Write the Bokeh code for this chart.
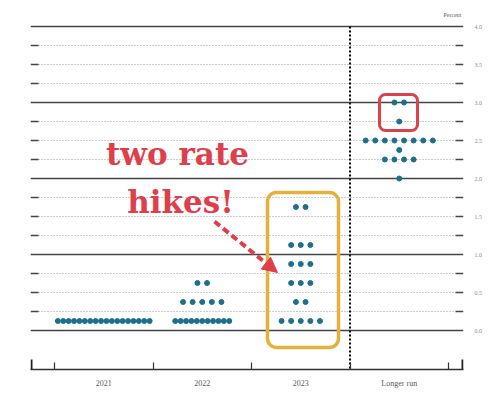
from bokeh.plotting import figure
from bokeh.models import (Range1d, LinearAxis, FixedTicker, PrintfTickFormatter,
                          BoxAnnotation, Label, Arrow, NormalHead)
from bokeh.embed import file_html
from bokeh.resources import INLINE

# ---------------- data ----------------
categories = ["2021", "2022", "2023", "Longer run"]
rates_2021 = [0.125]
counts_2021 = [18]
rates_2022 = [0.125, 0.375, 0.625]
counts_2022 = [11, 5, 2]
rates_2023 = [0.125, 0.375, 0.625, 0.875, 1.125, 1.625]
counts_2023 = [5, 2, 3, 3, 3, 2]
rates_lr = [2.0, 2.25, 2.375, 2.5, 2.75, 3.0]
counts_lr = [1, 4, 1, 8, 1, 2]
y_ticks = [0.0, 0.5, 1.0, 1.5, 2.0, 2.5, 3.0, 3.5, 4.0]
grid_levels = [i * 0.25 for i in range(17)]

# ---------------- layout ----------------
PX_X = 98.5   # px per category
PX_Y = 76.0   # px per percentage point
W, H = 500, 406

x0 = -24 / PX_X
x1 = 409 / PX_X
y0 = -39 / PX_Y
y1 = 330 / PX_Y

p = figure(width=W, height=H, output_backend="svg", toolbar_location=None,
           x_range=Range1d(x0, x1), y_range=Range1d(y0, y1),
           min_border_left=30, min_border_right=37, min_border_top=0,
           min_border_bottom=37, x_axis_location=None, y_axis_location=None)
p.outline_line_color = None
p.xgrid.visible = False
p.ygrid.visible = False
p.background_fill_color = "white"
p.border_fill_color = "white"

# gridlines
cap = 8 / PX_X
solid_y = [g for g in grid_levels if abs(g - round(g)) < 1e-9]
dot_y = [g for g in grid_levels if abs(g - round(g)) >= 1e-9]
p.segment(x0=[x0] * len(solid_y), x1=[x1] * len(solid_y), y0=solid_y, y1=solid_y,
          line_color="#444444", line_width=1.5)
p.segment(x0=[x0 + cap] * len(dot_y), x1=[x1 - cap] * len(dot_y), y0=dot_y, y1=dot_y,
          line_color="#9a9a9a", line_width=1, line_dash="1 2")
p.segment(x0=[x0] * len(dot_y), x1=[x0 + cap] * len(dot_y), y0=dot_y, y1=dot_y,
          line_color="#444444", line_width=1.5)
p.segment(x0=[x1 - cap] * len(dot_y), x1=[x1] * len(dot_y), y0=dot_y, y1=dot_y,
          line_color="#444444", line_width=1.5)

# vertical dotted separator
p.segment(x0=[3], x1=[3], y0=[4.0], y1=[y0], line_color="black", line_width=2,
          line_dash="2 2")
# end ticks of x-axis
tick_h = 10 / PX_Y
p.segment(x0=[x0 + 1 / PX_X, x1 - 1 / PX_X], x1=[x0 + 1 / PX_X, x1 - 1 / PX_X],
          y0=[y0, y0], y1=[y0 + tick_h, y0 + tick_h], line_color="#222222", line_width=2)

# dots
xs, ys = [], []
for ci, (rates, counts) in enumerate([(rates_2021, counts_2021), (rates_2022, counts_2022),
                                      (rates_2023, counts_2023), (rates_lr, counts_lr)]):
    center = ci + 0.5
    for r, n in zip(rates, counts):
        s = (9.6 if n <= 8 else 5.4) / PX_X
        for i in range(n):
            xs.append(center + (i - (n - 1) / 2) * s)
            ys.append(r)
p.scatter(x=xs, y=ys, size=5, fill_color="#1d6f8e", line_color="#1d6f8e")

# right axis (percent labels)
ry = LinearAxis(ticker=FixedTicker(ticks=y_ticks), formatter=PrintfTickFormatter(format="%.1f"))
ry.axis_line_color = None
ry.major_tick_line_color = None
ry.minor_tick_line_color = None
ry.major_label_text_font = "Liberation Serif"
ry.major_label_text_font_size = "6px"
ry.major_label_text_color = "#8a8a8a"
ry.major_label_standoff = 5
p.add_layout(ry, "right")

# bottom axis
centers = [i + 0.5 for i in range(len(categories))]
bx = LinearAxis(ticker=FixedTicker(ticks=centers, minor_ticks=[0, 1, 2, 3, 4]))
bx.major_label_overrides = {c: lab for c, lab in zip(centers, categories)}
bx.axis_line_color = "#333333"
bx.axis_line_width = 1.5
bx.major_tick_line_color = None
bx.minor_tick_in = 7
bx.minor_tick_out = 0
bx.minor_tick_line_color = "#333333"
bx.minor_tick_line_width = 1.2
bx.major_label_text_font = "Liberation Serif"
bx.major_label_text_font_size = "8px"
bx.major_label_text_color = "#5a5a5a"
bx.major_label_standoff = 3
p.add_layout(bx, "below")

# Percent label
p.add_layout(Label(x=x1, y=4.0 + 12 / PX_Y, x_offset=-2, text="Percent",
                   text_font="Liberation Serif", text_font_size="6px",
                   text_color="#666666", text_align="right", text_baseline="middle"))

# highlight boxes
p.add_layout(BoxAnnotation(left=213 / PX_X, right=284 / PX_X, top=138 / PX_Y, bottom=-17 / PX_Y,
                           fill_alpha=0, line_color="#e6b03c", line_alpha=1, line_width=3.5,
                           border_radius=9))
p.add_layout(BoxAnnotation(left=325 / PX_X, right=363 / PX_X, top=236 / PX_Y, bottom=200 / PX_Y,
                           fill_alpha=0, line_color="#d8434c", line_alpha=1, line_width=3,
                           border_radius=6))

# annotation text
red = "#de3f4a"
p.add_layout(Label(x=123 / PX_X, y=177 / PX_Y, text="two rate", text_font="DejaVu Serif",
                   text_font_style="bold", text_font_size="31px", text_color=red,
                   text_align="center", text_baseline="alphabetic"))
p.add_layout(Label(x=126 / PX_X, y=129 / PX_Y, text="hikes!", text_font="DejaVu Serif",
                   text_font_style="bold", text_font_size="31px", text_color=red,
                   text_align="center", text_baseline="alphabetic"))

# arrow
p.add_layout(Arrow(x_start=160 / PX_X, y_start=109 / PX_Y, x_end=223 / PX_X, y_end=58 / PX_Y,
                   line_color=red, line_width=4, line_dash="7 4",
                   end=NormalHead(size=15, fill_color=red, line_color=red)))

open("out.html", "w").write(file_html(p, INLINE))
